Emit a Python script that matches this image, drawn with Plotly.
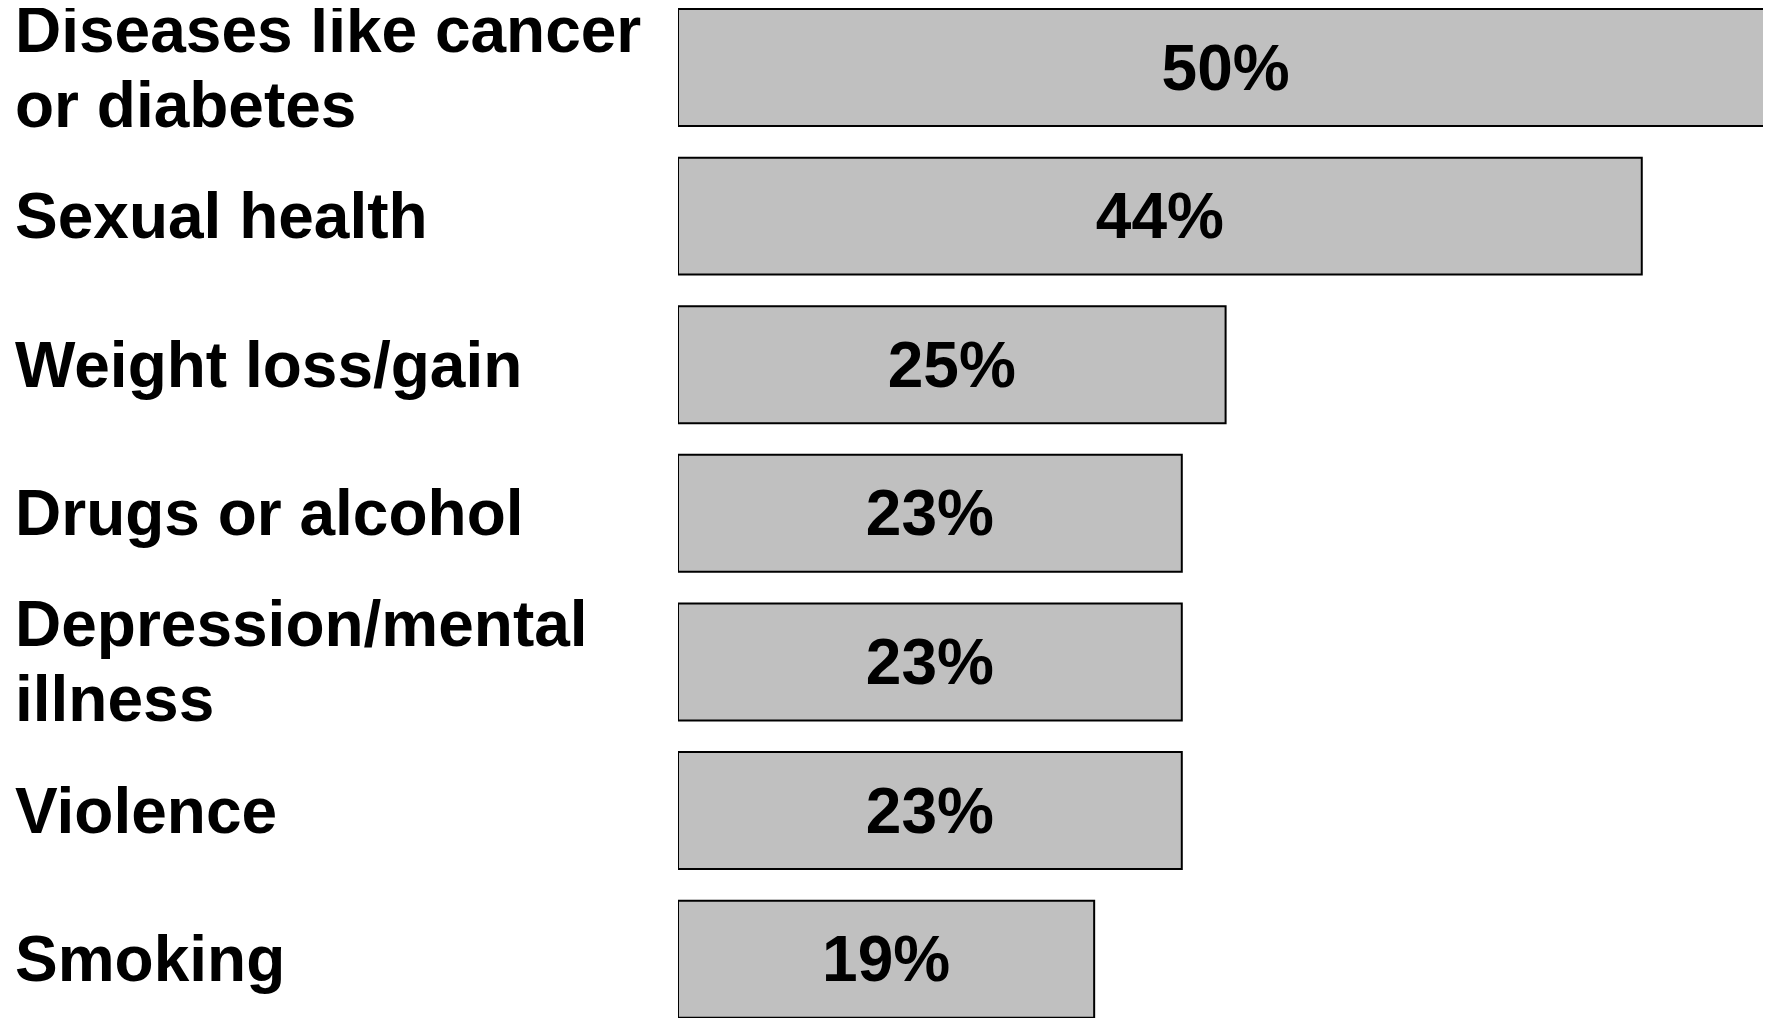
import plotly.graph_objects as go

categories = ["Diseases like cancer<br>or diabetes", "Sexual health", "Weight loss/gain",
              "Drugs or alcohol", "Depression/mental<br>illness", "Violence", "Smoking"]
values = [50, 44, 25, 23, 23, 23, 19]

# page body has an 8px margin; size figure to fit the window
W, H = 1763, 1010
left = 670
font_family = "Liberation Sans, Arial, sans-serif"
FS = 64
LINE = 75  # line spacing in px for wrapped labels

fig = go.Figure()
fig.add_trace(go.Bar(
    y=list(range(len(categories))),
    x=values,
    orientation="h",
    marker=dict(color="#C0C0C0", line=dict(color="#000000", width=2)),
    text=[f"<b>{v}%</b>" for v in values],
    textposition="inside",
    insidetextanchor="middle",
    textfont=dict(family=font_family, size=FS, color="#000000"),
    constraintext="none",
    cliponaxis=True,
))

for i, c in enumerate(categories):
    lines = c.split("<br>")
    n = len(lines)
    for k, ln in enumerate(lines):
        off = (k - (n - 1) / 2) * LINE
        fig.add_annotation(
            x=(5 - left) / (W - left), xref="paper", xanchor="left", align="left",
            y=i, yref="y", yanchor="middle", yshift=-off,
            text=f"<b>{ln}</b>", showarrow=False,
            font=dict(family=font_family, size=FS, color="#000000"),
        )

fig.update_layout(
    width=W, height=H,
    margin=dict(l=left, r=0, t=0, b=0),
    paper_bgcolor="white", plot_bgcolor="white",
    bargap=0.213,
    showlegend=False,
    xaxis=dict(range=[0, 49.9], visible=False, showgrid=False, zeroline=False),
    yaxis=dict(range=[6.396, -0.4004], showticklabels=False, showgrid=False,
               zeroline=False, showline=False, ticks=""),
)

fig.write_html("out.html")
